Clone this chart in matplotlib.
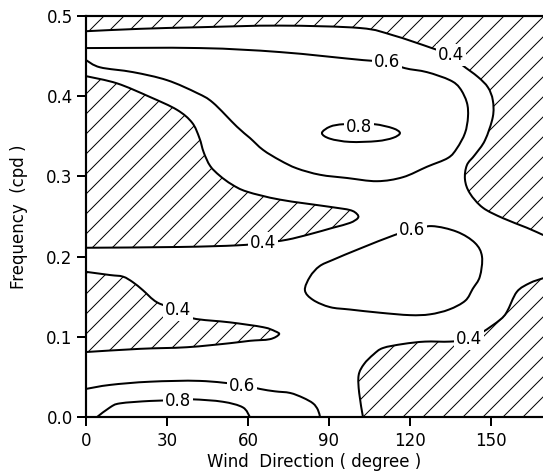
import matplotlib
matplotlib.use("Agg")
from matplotlib import pyplot as plt
from matplotlib.path import Path
from matplotlib.patches import PathPatch

plt.rcParams["font.family"] = "DejaVu Sans"
plt.rcParams["font.size"] = 10
plt.rcParams["hatch.linewidth"] = 0.6
plt.rcParams["hatch.color"] = "black"

DIR_MAX = 169.3
FREQ_MAX = 0.5

# coherence contours: wind direction (degree) / frequency (cpd)

# 0.4 under the top band and round the right-hand low region
top04_dir = [0, 20, 42.2, 71.9, 101.5, 113.7, 128.1, 135.2, 139.3, 145.2, 148.9,
             150.7, 150.7, 147.8, 144.1, 141.1, 140.4, 142.2, 147.0, 154.4, 163.3, 169.3]
top04_freq = [0.481, 0.484, 0.486, 0.488, 0.485, 0.476, 0.460, 0.451, 0.439, 0.424, 0.411,
              0.395, 0.374, 0.345, 0.327, 0.314, 0.296, 0.279, 0.261, 0.248, 0.236, 0.227]

# upper 0.6 region
top06_dir = [0, 42.2, 71.9, 102.6, 111.5, 118.1, 126.3, 134.8, 138.5, 141.1, 141.5, 140.4,
             137.4, 134.1, 126.3, 117.4, 107.8, 96.7, 86.7, 78.1, 71.9, 65.6, 60.7, 55.9,
             47.0, 41.1, 30.0, 17.4, 5.2, 0]
top06_freq = [0.460, 0.460, 0.455, 0.445, 0.443, 0.435, 0.430, 0.420, 0.410, 0.392, 0.374, 0.354,
              0.335, 0.323, 0.312, 0.299, 0.294, 0.298, 0.302, 0.310, 0.320, 0.333, 0.348, 0.362,
              0.392, 0.404, 0.420, 0.430, 0.436, 0.445]

# 0.8 peak
peak08_dir = [87.4, 90.4, 95.2, 101.1, 107.0, 113.7, 116.3, 113.7, 107.8, 97.8, 90.4, 87.4]
peak08_freq = [0.354, 0.362, 0.365, 0.364, 0.365, 0.360, 0.354, 0.348, 0.344, 0.343, 0.347, 0.354]

# 0.4 round the mid-left low tongue
left04_dir = [0, 11.5, 23.7, 33.7, 39.3, 42.0, 43.6, 46.0, 49.5, 54.0, 59.6, 71.9, 90.4,
              97.8, 100.4, 100.7, 97.8, 91.5, 83.0, 74.4, 65.6, 55.9, 34.8, 0]
left04_freq = [0.425, 0.416, 0.399, 0.383, 0.367, 0.348, 0.330, 0.313, 0.301, 0.290, 0.281, 0.271, 0.262,
               0.258, 0.253, 0.248, 0.242, 0.236, 0.228, 0.221, 0.217, 0.214, 0.212, 0.211]

# middle 0.6 loop
mid06_dir = [120.7, 128.1, 137.4, 144.1, 146.7, 145.9, 143.3, 140.5, 134.5, 127.4, 120.0, 108.9,
             97.8, 90.4, 84.1, 81.1, 83.0, 86.5, 91.5, 101.5, 114.4, 120.7]
mid06_freq = [0.233, 0.238, 0.231, 0.217, 0.200, 0.175, 0.160, 0.145, 0.134, 0.128, 0.127, 0.130,
              0.134, 0.137, 0.146, 0.158, 0.175, 0.188, 0.196, 0.210, 0.227, 0.233]

# 0.4 round the lower-left low tongue
low04_dir = [0, 8.9, 13.7, 17.4, 21.1, 26.3, 34.1, 39.6, 53.3, 65.6, 70.0, 71.5, 68.1,
             60.7, 53.3, 37.4, 20.0, 0]
low04_freq = [0.181, 0.177, 0.175, 0.168, 0.158, 0.143, 0.133, 0.123, 0.118, 0.112, 0.107, 0.103, 0.097,
              0.095, 0.092, 0.087, 0.085, 0.081]

# 0.6 and 0.8 near zero frequency
bot06_dir = [0, 8.9, 23.7, 42.2, 57.8, 64.4, 70.0, 75.6, 80.4, 84.1, 85.9, 86.7]
bot06_freq = [0.035, 0.040, 0.044, 0.045, 0.040, 0.035, 0.032, 0.030, 0.024, 0.017, 0.009, 0.0]
bot08_dir = [4.1, 8.9, 12.6, 23.7, 34.1, 39.6, 50.7, 58.1, 60.7]
bot08_freq = [0.0, 0.012, 0.017, 0.020, 0.021, 0.022, 0.019, 0.012, 0.0]

# 0.4 round the lower-right low region
right04_dir = [102.6, 101.2, 101.0, 103.0, 106.5, 110.0, 117.4, 125.6, 134.8, 141.9, 147.0,
               153.3, 155.9, 159.6, 164.4, 169.3]
right04_freq = [0.0, 0.030, 0.052, 0.066, 0.078, 0.086, 0.091, 0.094, 0.094, 0.097, 0.106,
                0.121, 0.131, 0.156, 0.167, 0.173]

# contour labels
label_dir = [135.2, 111.5, 101.1, 120.7, 65.6, 34.1, 141.9, 57.8, 34.1]
label_freq = [0.451, 0.443, 0.362, 0.233, 0.217, 0.133, 0.097, 0.039, 0.020]
label_text = ["0.4", "0.6", "0.8", "0.6", "0.4", "0.4", "0.4", "0.6", "0.8"]


def smooth(xs, ys, closed=False):
    # catmull-rom through the traced points, as bezier segments
    pts = list(zip(xs, ys))
    if closed:
        pts = pts[:-1]
    n = len(pts)
    verts = [pts[0]]
    codes = [Path.MOVETO]
    for i in range(n if closed else n - 1):
        if closed:
            p0, p1, p2, p3 = pts[(i - 1) % n], pts[i], pts[(i + 1) % n], pts[(i + 2) % n]
        else:
            p0, p1, p2, p3 = pts[max(i - 1, 0)], pts[i], pts[i + 1], pts[min(i + 2, n - 1)]
        c1 = (p1[0] + (p2[0] - p0[0]) / 6, p1[1] + (p2[1] - p0[1]) / 6)
        c2 = (p2[0] - (p3[0] - p1[0]) / 6, p2[1] - (p3[1] - p1[1]) / 6)
        verts += [c1, c2, p2]
        codes += [Path.CURVE4] * 3
    return verts, codes


def hatched(xs, ys, corners=()):
    verts, codes = smooth(xs, ys)
    for c in corners:
        verts.append(c)
        codes.append(Path.LINETO)
    verts.append(verts[0])
    codes.append(Path.CLOSEPOLY)
    ax.add_patch(PathPatch(Path(verts, codes), facecolor="none", edgecolor="black",
                           hatch="//", linewidth=0))


fig = plt.figure(figsize=(543 / 120, 473 / 120), dpi=120)
ax = fig.add_axes([0.1584, 0.1184, 0.8416, 0.8478])

# hatched areas: coherence below 0.4
hatched(top04_dir, top04_freq, [(DIR_MAX, FREQ_MAX), (0, FREQ_MAX)])
hatched(left04_dir, left04_freq)
hatched(low04_dir, low04_freq)
hatched(right04_dir, right04_freq, [(DIR_MAX, 0)])

contours = [(top04_dir, top04_freq, False), (top06_dir, top06_freq, False),
            (peak08_dir, peak08_freq, True), (left04_dir, left04_freq, False),
            (mid06_dir, mid06_freq, True), (low04_dir, low04_freq, False),
            (bot06_dir, bot06_freq, False), (bot08_dir, bot08_freq, False),
            (right04_dir, right04_freq, False)]
for xs, ys, closed in contours:
    verts, codes = smooth(xs, ys, closed)
    ax.add_patch(PathPatch(Path(verts, codes), fill=False, edgecolor="black",
                           linewidth=1.2, capstyle="round", zorder=3))

for x, y, s in zip(label_dir, label_freq, label_text):
    ax.text(x, y, s, ha="center", va="center", fontsize=10, zorder=5,
            bbox=dict(boxstyle="square,pad=0.12", facecolor="white", edgecolor="none"))

ax.set_xlim(0, DIR_MAX)
ax.set_ylim(0, FREQ_MAX)
ax.set_xticks([0, 30, 60, 90, 120, 150])
ax.set_yticks([0.0, 0.1, 0.2, 0.3, 0.4, 0.5])
ax.set_yticklabels(["0.0", "0.1", "0.2", "0.3", "0.4", "0.5"])
ax.tick_params(direction="out", length=5.5, width=1.2, labelsize=10)
ax.tick_params(axis="x", pad=3.5)
ax.tick_params(axis="y", pad=2.5)
for side in ["left", "bottom", "top"]:
    ax.spines[side].set_linewidth(1.3)
    ax.spines[side].set_zorder(4)
ax.spines["right"].set_visible(False)

ax.set_xlabel("Wind  Direction ( degree )", labelpad=2)
ax.set_ylabel("Frequency  (cpd )", labelpad=11)

fig.savefig("out.png", dpi=120)
